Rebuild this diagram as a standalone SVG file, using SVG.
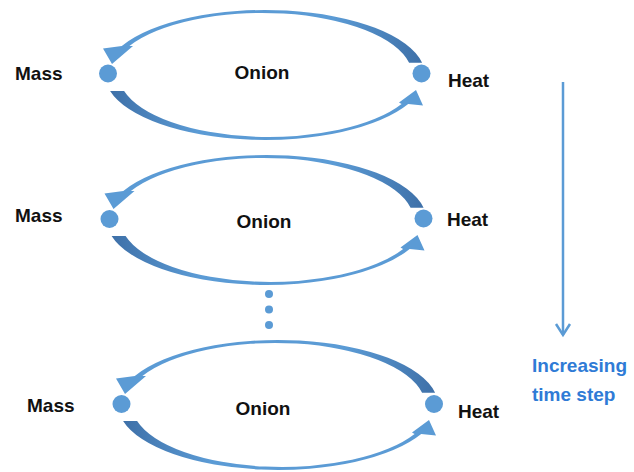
<svg xmlns="http://www.w3.org/2000/svg" width="634" height="472" viewBox="0 0 634 472">
<style>
.lbl{font-family:"Liberation Sans",Arial,sans-serif;font-weight:bold;font-size:19px;fill:#111}
.side{font-family:"Liberation Sans",Arial,sans-serif;font-weight:bold;font-size:19px;fill:#2f7bd6}
.node{fill:#5b9bd5}
.dot{fill:#5b9bd5}
</style>
<defs>
<linearGradient id="gTop" x1="0" y1="0" x2="1" y2="0">
<stop offset="0" stop-color="#5b9bd5"/>
<stop offset="0.72" stop-color="#5b9bd5"/>
<stop offset="1" stop-color="#3e70a8"/>
</linearGradient>
<linearGradient id="gBot" x1="0" y1="0" x2="1" y2="0">
<stop offset="0" stop-color="#3e70a8"/>
<stop offset="0.28" stop-color="#5b9bd5"/>
<stop offset="1" stop-color="#5b9bd5"/>
</linearGradient>
<g id="loop">
<path fill="url(#gTop)" d="M422.1,62.7 A160 65 0 0 0 121.8,46 L103,48.5 L112,64 L133,46 L129.4,46 A150 62 0 0 1 409.1,62.7 Z"/>
<path fill="url(#gBot)" d="M110.1,91 A160 65 0 0 0 408.2,104 L423,105.5 L416,90 L399,102.5 L401.6,104 A150 62 0 0 1 124.1,91 Z"/>
</g>
</defs>
<g id="connectors">
<use href="#loop"/>
<use href="#loop" transform="translate(1.5,145)"/>
<use href="#loop" transform="translate(13,330)"/>
<g id="time-arrow" fill="none" stroke="#5b9bd5" stroke-width="2.5">
<line x1="563" y1="82" x2="563" y2="335"/>
<polyline points="556,324 563,335 570,324"/>
</g>
</g>
<g id="loop1">
<g id="mass1"><circle class="node" cx="108" cy="73.5" r="9"/><text class="lbl" x="15" y="80">Mass</text></g>
<g id="heat1"><circle class="node" cx="421.5" cy="73.5" r="9"/><text class="lbl" x="448" y="87">Heat</text></g>
<g id="onion1"><text class="lbl" x="262" y="79" text-anchor="middle">Onion</text></g>
</g>
<g id="loop2">
<g id="mass2"><circle class="node" cx="109.5" cy="219" r="9"/><text class="lbl" x="15" y="222">Mass</text></g>
<g id="heat2"><circle class="node" cx="423.5" cy="218.5" r="9"/><text class="lbl" x="447" y="226">Heat</text></g>
<g id="onion2"><text class="lbl" x="264" y="228" text-anchor="middle">Onion</text></g>
</g>
<g id="ellipsis">
<circle class="dot" cx="269" cy="294" r="4"/>
<circle class="dot" cx="269" cy="309.5" r="4"/>
<circle class="dot" cx="269" cy="325" r="4"/>
</g>
<g id="loop3">
<g id="mass3"><circle class="node" cx="121.5" cy="404" r="9"/><text class="lbl" x="27" y="412">Mass</text></g>
<g id="heat3"><circle class="node" cx="434" cy="404" r="9"/><text class="lbl" x="458" y="418">Heat</text></g>
<g id="onion3"><text class="lbl" x="263" y="415" text-anchor="middle">Onion</text></g>
</g>
<g id="time-label">
<text class="side" x="532" y="372">Increasing</text>
<text class="side" x="532" y="401">time step</text>
</g>
</svg>
